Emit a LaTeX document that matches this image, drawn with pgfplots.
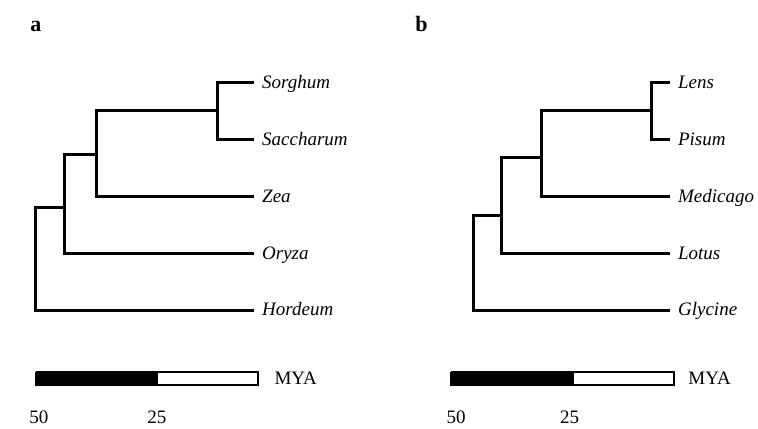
\documentclass[border=0pt]{standalone}
\usepackage{fontspec}
\setmainfont{Liberation Serif}
\usepackage{pgfplots}
\pgfplotsset{compat=1.18}
\tikzset{
  leaf/.style={anchor=base west, xshift=4pt, yshift=-3pt, inner sep=0pt, font=\fontsize{9.5}{11}\selectfont\itshape},
}
\pgfplotsset{
  treeax/.style={anchor=north west, scale only axis, height=185.25pt,
    xmin=0, xmax=52, ymin=0, ymax=6.5, x dir=reverse, y dir=reverse,
    hide axis, clip=false},
  br/.style={black, line width=1.5pt, line join=miter, mark=none},
}
\begin{document}
\begin{tikzpicture}[font=\fontsize{9.5}{11}\selectfont]
\useasboundingbox (0,0) rectangle (379pt,-214pt);
% ---------------- panel a ----------------
\begin{axis}[treeax, at={(13.15pt,-12.5pt)}, width=125.85pt]
\addplot[br] coordinates {(5,1) (12.4,1) (12.4,2) (5,2)};
\addplot[br] coordinates {(12.4,1.5) (37.4,1.5) (37.4,3) (5,3)};
\addplot[br] coordinates {(37.4,2.28) (44.2,2.28) (44.2,4) (5,4)};
\addplot[br] coordinates {(44.2,3.21) (50,3.21) (50,5) (5,5)};
% scale bar
\addplot[draw=black, fill=black, line width=1pt, mark=none] coordinates {(50,6.09) (25,6.09) (25,6.31) (50,6.31) (50,6.09)};
\addplot[draw=black, fill=white, line width=1pt, mark=none] coordinates {(25,6.09) (4.1,6.09) (4.1,6.31) (25,6.31) (25,6.09)};
\node[leaf] at (axis cs:5,1) {Sorghum};
\node[leaf] at (axis cs:5,2) {Saccharum};
\node[leaf] at (axis cs:5,3) {Zea};
\node[leaf] at (axis cs:5,4) {Oryza};
\node[leaf] at (axis cs:5,5) {Hordeum};
\node[anchor=west, xshift=8pt, inner sep=0pt] at (axis cs:4.1,6.2) {MYA};
\node[inner sep=0pt, xshift=1.5pt] at (axis cs:50,6.88) {50};
\node[inner sep=0pt] at (axis cs:25,6.88) {25};
\node[anchor=base west, inner sep=0pt, font=\fontsize{11}{13}\selectfont\bfseries] at (axis cs:51.24,0.12) {a};
\end{axis}
% ---------------- panel b ----------------
\begin{axis}[treeax, at={(220.64pt,-12.5pt)}, width=126.36pt]
\addplot[br] coordinates {(5,1) (8.8,1) (8.8,2) (5,2)};
\addplot[br] coordinates {(8.8,1.5) (31.3,1.5) (31.3,3) (5,3)};
\addplot[br] coordinates {(31.3,2.32) (39.7,2.32) (39.7,4) (5,4)};
\addplot[br] coordinates {(39.7,3.35) (45.3,3.35) (45.3,5) (5,5)};
% scale bar
\addplot[draw=black, fill=black, line width=1pt, mark=none] coordinates {(50,6.09) (25,6.09) (25,6.31) (50,6.31) (50,6.09)};
\addplot[draw=black, fill=white, line width=1pt, mark=none] coordinates {(25,6.09) (4.1,6.09) (4.1,6.31) (25,6.31) (25,6.09)};
\node[leaf] at (axis cs:5,1) {Lens};
\node[leaf] at (axis cs:5,2) {Pisum};
\node[leaf] at (axis cs:5,3) {Medicago};
\node[leaf] at (axis cs:5,4) {Lotus};
\node[leaf] at (axis cs:5,5) {Glycine};
\node[anchor=west, xshift=7pt, inner sep=0pt] at (axis cs:4.1,6.2) {MYA};
\node[inner sep=0pt, xshift=2.5pt] at (axis cs:50,6.88) {50};
\node[inner sep=0pt, xshift=-1.5pt] at (axis cs:25,6.88) {25};
\node[anchor=base west, inner sep=0pt, font=\fontsize{11}{13}\selectfont\bfseries] at (axis cs:57.4,0.12) {b};
\end{axis}
\end{tikzpicture}
\end{document}
